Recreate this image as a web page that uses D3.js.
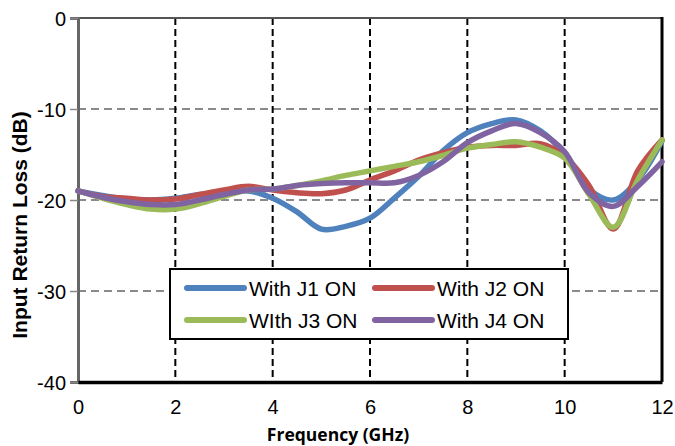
<!DOCTYPE html>
<html lang="en">
<head>
    <meta charset="UTF-8">
    <title>Input Return Loss</title>
    <script src="https://d3js.org/d3.v7.min.js"></script>
    <style>
        body {
            margin: 0;
            background-color: #fff;
        }
        .tick-label {
            font-family: Arial, "Liberation Sans", sans-serif;
            font-size: 20px;
            fill: #000;
        }
        .legend-label {
            font-family: Arial, "Liberation Sans", sans-serif;
            font-size: 21px;
            fill: #000;
        }
    </style>
</head>
<body>
    <svg id="chart"></svg>

    <script>
        // Frequency samples (GHz)
        const freq = [0, 0.5, 1, 1.5, 2, 2.5, 3, 3.5, 4, 4.5, 5, 5.5, 6, 6.5, 7, 7.5, 8, 8.5, 9, 9.5, 10, 10.5, 11, 11.5, 12];

        // Return loss (dB)
        const j1 = [-19.0, -19.5, -19.9, -20.0, -19.8, -19.4, -19.2, -19.0, -19.8, -21.3, -23.2, -22.9, -22.0, -19.8, -17.4, -14.6, -12.6, -11.6, -11.2, -12.4, -14.9, -18.8, -20.0, -17.8, -13.5];
        const j2 = [-19.0, -19.6, -19.8, -20.0, -19.9, -19.4, -18.9, -18.5, -18.9, -19.2, -19.3, -18.9, -17.8, -16.8, -15.6, -14.8, -14.2, -14.0, -14.0, -13.8, -15.2, -18.4, -23.2, -16.8, -13.4];
        const j3 = [-19.0, -19.8, -20.5, -21.0, -21.0, -20.4, -19.6, -18.9, -18.8, -18.4, -17.9, -17.3, -16.8, -16.3, -15.8, -15.1, -14.3, -13.9, -13.6, -14.2, -15.4, -19.4, -23.0, -17.8, -13.4];
        const j4 = [-19.0, -19.7, -20.2, -20.5, -20.5, -20.0, -19.4, -18.9, -18.8, -18.4, -18.2, -18.1, -18.1, -18.1, -17.3, -15.8, -13.7, -12.4, -11.6, -12.6, -14.7, -19.2, -20.7, -18.5, -15.8];

        const seriesNames = ["With J1 ON", "With J2 ON", "WIth J3 ON", "With J4 ON"];
        const seriesColors = ["#4f81bd", "#c0504d", "#9bbb59", "#8064a2"];

        const xTicks = [0, 2, 4, 6, 8, 10, 12];
        const yTicks = [0, -10, -20, -30, -40];

        const width = 675;
        const height = 446;

        const svg = d3.select("#chart")
            .attr("width", width)
            .attr("height", height);

        const x = d3.scaleLinear().domain([0, 12]).range([78, 662]);
        const y = d3.scaleLinear().domain([-40, 0]).range([382, 18]);

        // horizontal grid (gray dashed)
        svg.selectAll(".hgrid")
            .data(yTicks.filter(d => d !== 0 && d !== -40))
            .enter().append("line")
            .attr("x1", x(0)).attr("x2", x(12))
            .attr("y1", d => y(d)).attr("y2", d => y(d))
            .style("stroke", "#8a8a8a")
            .style("stroke-width", 2)
            .style("stroke-dasharray", "8,5");

        // vertical grid (black dashed)
        svg.selectAll(".vgrid")
            .data(xTicks.filter(d => d !== 0 && d !== 12))
            .enter().append("line")
            .attr("x1", d => x(d)).attr("x2", d => x(d))
            .attr("y1", y(0)).attr("y2", y(-40))
            .style("stroke", "#000")
            .style("stroke-width", 2)
            .style("stroke-dasharray", "7,4");

        // frame
        svg.append("line").attr("x1", x(0)).attr("x2", x(12)).attr("y1", y(0)).attr("y2", y(0))
            .style("stroke", "#555").style("stroke-width", 2);
        svg.append("line").attr("x1", x(12)).attr("x2", x(12)).attr("y1", y(0) - 1).attr("y2", y(-40))
            .style("stroke", "#000").style("stroke-width", 3);

        // y axis
        const yAxis = svg.append("g")
            .attr("transform", `translate(${x(0)},0)`)
            .call(d3.axisLeft(y).tickValues(yTicks).tickSize(8).tickPadding(4).tickFormat(d => String(d)));
        yAxis.select(".domain").style("stroke", "#666").style("stroke-width", 3);
        yAxis.selectAll(".tick line").style("stroke", "#888").style("stroke-width", 1.5);
        yAxis.selectAll(".tick text").attr("class", "tick-label").attr("dy", "0.36em");

        // bottom axis
        const xAxis = svg.append("g")
            .attr("transform", `translate(0,${y(-40)})`)
            .call(d3.axisBottom(x).tickValues(xTicks).tickSize(0).tickPadding(18).tickFormat(d => String(d)));
        xAxis.select(".domain").style("stroke", "#000").style("stroke-width", 3.5);
        xAxis.selectAll(".tick text").attr("class", "tick-label");

        // curves
        const line = d3.line()
            .x((d, i) => x(freq[i]))
            .y(d => y(d))
            .curve(d3.curveCatmullRom.alpha(0.5));

        [j1, j2, j3, j4].forEach((s, k) => {
            svg.append("path")
                .datum(s)
                .attr("d", line)
                .style("fill", "none")
                .style("stroke", seriesColors[k])
                .style("stroke-width", 5.5)
                .style("stroke-linejoin", "round")
                .style("stroke-linecap", "round");
        });

        // legend
        const legend = svg.append("g");
        legend.append("rect")
            .attr("x", 170).attr("y", 269)
            .attr("width", 398).attr("height", 70)
            .style("fill", "#fff")
            .style("stroke", "#000")
            .style("stroke-width", 2);

        const legendPos = [[187, 288], [375, 288], [187, 320], [375, 320]];
        seriesNames.forEach((name, k) => {
            const [lx, ly] = legendPos[k];
            legend.append("line")
                .attr("x1", lx).attr("x2", lx + 57)
                .attr("y1", ly).attr("y2", ly)
                .style("stroke", seriesColors[k])
                .style("stroke-width", 6)
                .style("stroke-linecap", "round");
            legend.append("text")
                .attr("class", "legend-label")
                .attr("x", lx + 62).attr("y", ly + 7.5)
                .text(name);
        });

        // axis titles
        svg.append("text")
            .attr("transform", "translate(27,225) rotate(-90)")
            .attr("text-anchor", "middle")
            .style("font-family", "Arial, 'Liberation Sans', sans-serif")
            .style("font-weight", "bold")
            .style("font-size", "21px")
            .text("Input Return Loss (dB)");

        svg.append("text")
            .attr("x", 338).attr("y", 441)
            .attr("text-anchor", "middle")
            .style("font-family", "'Open Sans', sans-serif")
            .style("font-weight", "bold")
            .style("font-size", "17.5px")
            .text("Frequency (GHz)");
    </script>
</body>
</html>
